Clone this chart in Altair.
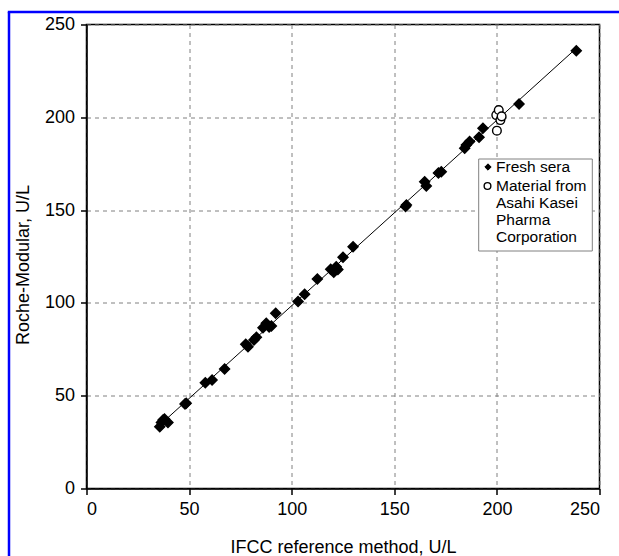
import altair as alt
import pandas as pd

# Fresh sera: IFCC reference method (x) vs Roche-Modular (y), U/L
fresh_x = [35.7, 37.3, 36.5, 38.0, 39.7, 48.0, 48.6, 57.9, 61.2, 67.3,
           77.6, 78.7, 81.6, 82.8, 86.0, 87.6, 89.0, 90.1, 92.2, 103.1,
           106.3, 112.5, 119.0, 120.5, 121.7, 122.5, 125.0, 129.9, 155.5, 155.9,
           164.8, 165.6, 172.9, 171.5, 184.3, 185.1, 186.7, 191.3, 193.2, 210.8,
           238.7]
fresh_y = [33.3, 36.9, 35.5, 37.5, 35.5, 45.5, 45.9, 57.0, 58.5, 64.4,
           77.7, 76.4, 80.0, 81.5, 86.6, 89.0, 87.0, 87.6, 94.4, 100.7,
           104.6, 112.9, 118.1, 116.5, 119.5, 118.0, 124.6, 130.3, 152.0, 152.7,
           165.3, 163.0, 170.7, 170.0, 183.3, 185.1, 186.9, 189.2, 194.1, 207.2,
           235.9]

# Material from Asahi Kasei Pharma Corporation
material_x = [200.0, 199.7, 200.9, 201.7, 202.3]
material_y = [192.8, 201.2, 203.9, 198.5, 200.5]

groups = ["Fresh sera", "Material from|Asahi Kasei|Pharma|Corporation"]
shapes = ["diamond", "circle"]
fills = ["black", "white"]
ticks = [0, 50, 100, 150, 200, 250]

df = pd.DataFrame({
    "x": fresh_x + material_x,
    "y": fresh_y + material_y,
    "group": [groups[0]] * len(fresh_x) + [groups[1]] * len(material_x),
})

FONT = "Liberation Sans"

xenc = alt.X("x:Q", title="IFCC reference method, U/L",
             scale=alt.Scale(domain=[0, 250], nice=False),
             axis=alt.Axis(values=ticks, grid=True))
yenc = alt.Y("y:Q", title="Roche-Modular, U/L",
             scale=alt.Scale(domain=[0, 250], nice=False),
             axis=alt.Axis(values=ticks, grid=True, titleY=240))

base = alt.Chart(df)

line = base.transform_filter(
    alt.datum.group == groups[0]
).transform_regression("x", "y").mark_line(
    color="black", strokeWidth=1
).encode(x=xenc, y=yenc)

points = base.mark_point(
    filled=True, stroke="black", strokeWidth=1.4, opacity=1
).encode(
    x=xenc,
    y=yenc,
    shape=alt.Shape("group:N", scale=alt.Scale(domain=groups, range=shapes), legend=None),
    fill=alt.Fill("group:N", scale=alt.Scale(domain=groups, range=fills), legend=None),
    size=alt.Size("group:N", scale=alt.Scale(domain=groups, range=[100, 75]), legend=None),
)

one = pd.DataFrame({"a": [0]})

# blue page frame
frame_v = alt.Chart(one).mark_rule(color="#0000ff", strokeWidth=2.5).encode(
    x=alt.value(-77.5), y=alt.value(-12.5), y2=alt.value(700))
frame_h = alt.Chart(one).mark_rule(color="#0000ff", strokeWidth=2.5).encode(
    x=alt.value(-78.7), x2=alt.value(700), y=alt.value(-12.5))

# legend box
leg_box = alt.Chart(one).mark_rect(
    x=392.2, x2=505.8, y=134.5, y2=226.5,
    fill="white", stroke="#808080", strokeWidth=1
).encode(opacity=alt.value(1))
leg_sym1 = alt.Chart(one).mark_point(
    shape=shapes[0], filled=True, fill=fills[0], stroke="black", strokeWidth=1, size=40, opacity=1
).encode(x=alt.value(401.5), y=alt.value(142.5))
leg_sym2 = alt.Chart(one).mark_point(
    shape=shapes[1], filled=True, fill=fills[1], stroke="black", strokeWidth=1.4, size=45, opacity=1
).encode(x=alt.value(401.0), y=alt.value(161.5))
leg_txt1 = alt.Chart(one).mark_text(
    align="left", baseline="middle", font=FONT, fontSize=15.5, color="black"
).encode(x=alt.value(409.5), y=alt.value(142.5), text=alt.value(groups[0]))
leg_txt2 = alt.Chart(one).mark_text(
    align="left", baseline="middle", font=FONT, fontSize=15.5, color="black",
    lineBreak="|", lineHeight=17
).encode(x=alt.value(409.5), y=alt.value(161.5), text=alt.value(groups[1]))

chart = alt.layer(
    line, points, frame_v, frame_h, leg_box, leg_sym1, leg_sym2, leg_txt1, leg_txt2
).properties(
    width=513, height=464,
    autosize=alt.AutoSizeParams(type="none"),
    padding={"left": 86.5, "top": 24.5, "right": 19.5, "bottom": 67.5},
    background="white",
).configure_view(
    stroke="black", strokeWidth=1.5
).configure_axis(
    domainColor="black", domainWidth=1.5,
    tickColor="black", tickSize=6, tickWidth=1.5,
    gridColor="#808080", gridDash=[4, 4], gridWidth=1,
    labelFont=FONT, labelFontSize=18, labelColor="black",
    titleFont=FONT, titleFontSize=18, titleFontWeight="normal", titleColor="black",
).configure_axisX(
    labelPadding=6, titlePadding=20
).configure_axisY(
    labelPadding=6, titlePadding=12
)

chart.save("out.html", embed_options={"renderer": "svg", "actions": False})
